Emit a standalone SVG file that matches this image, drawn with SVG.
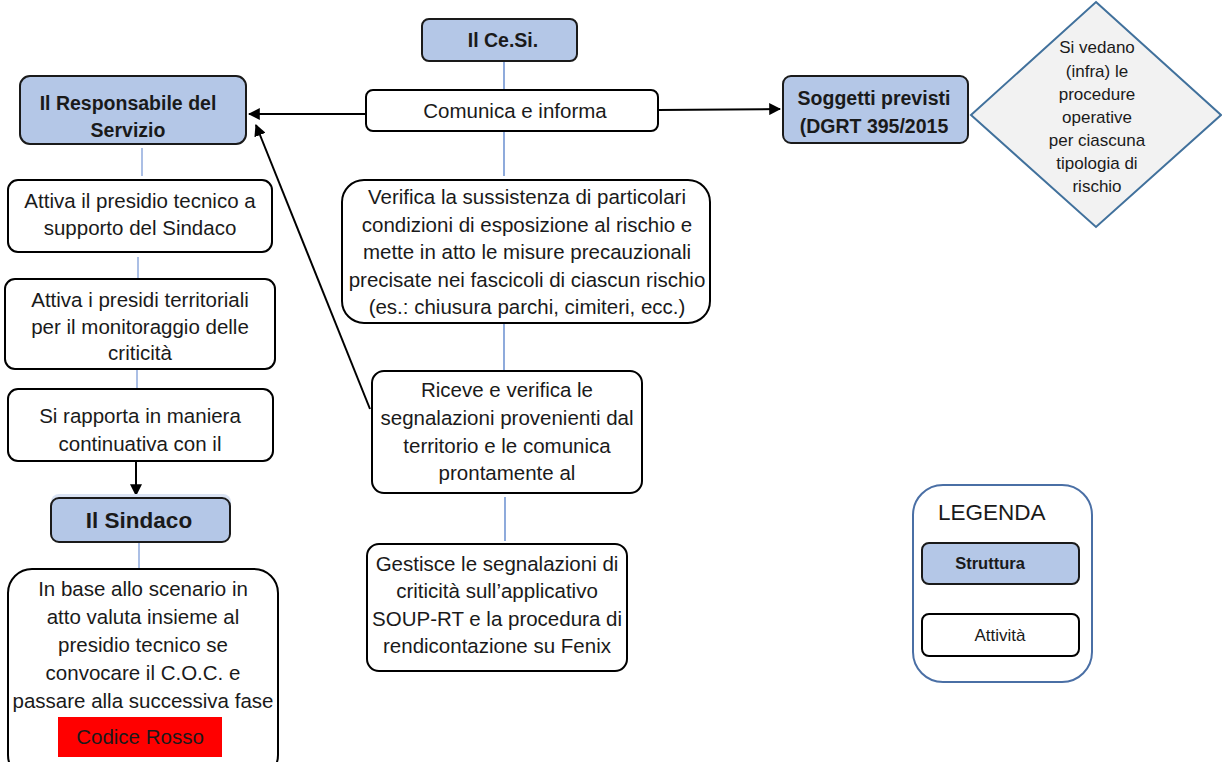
<svg xmlns="http://www.w3.org/2000/svg" width="1222" height="762" viewBox="0 0 1222 762">
<defs>
<style>
.s{fill:#B4C7E7;stroke:#1a1a1a;stroke-width:2}
.a{fill:#ffffff;stroke:#000;stroke-width:2}
.t{font-family:"Liberation Sans",Arial,sans-serif;font-size:20.5px;fill:#1a1a1a;text-anchor:middle}
.b{font-family:"Liberation Sans",Arial,sans-serif;font-weight:bold;font-size:19.5px;fill:#1a1a1a;text-anchor:middle}
.d{font-family:"Liberation Sans",Arial,sans-serif;font-size:17px;fill:#1a1a1a;text-anchor:middle}
.bl{stroke:#4472C4;stroke-width:1.2;fill:none}
.lb{stroke:#8FAADC;stroke-width:1.5;fill:none}
.k{stroke:#000;stroke-width:2;fill:none}
</style>
<marker id="ah" viewBox="0 0 10 10" refX="9" refY="5" markerWidth="6" markerHeight="6" markerUnits="strokeWidth" orient="auto">
<path d="M0,0 L10,5 L0,10 z" fill="#000"/>
</marker>
</defs>
<rect width="1222" height="762" fill="#ffffff"/>

<g id="connectors">
<line class="bl" x1="504" y1="61" x2="504" y2="90"/>
<line class="bl" x1="504" y1="131" x2="504" y2="176"/>
<line class="bl" x1="504" y1="323" x2="504" y2="370"/>
<line class="bl" x1="505" y1="497" x2="505" y2="541"/>
<line class="lb" x1="142" y1="148" x2="142" y2="176"/>
<line class="lb" x1="138" y1="257" x2="138" y2="279"/>
<line class="lb" x1="137" y1="369" x2="137" y2="391"/>
<line class="lb" x1="139" y1="542" x2="139" y2="568"/>
<line class="k" x1="366" y1="114" x2="249" y2="114" marker-end="url(#ah)"/>
<line class="k" x1="658" y1="110" x2="780" y2="109" marker-end="url(#ah)"/>
<line class="k" x1="370" y1="409" x2="256" y2="125" marker-end="url(#ah)"/>
<line class="k" x1="136" y1="461" x2="136" y2="495" marker-end="url(#ah)"/>
</g>

<g id="cesi">
<rect class="s" x="422" y="19" width="155" height="42" rx="7"/>
<text class="b" x="503" y="47">Il Ce.Si.</text>
</g>

<g id="comunica">
<rect class="a" x="366" y="90" width="292" height="41" rx="7"/>
<text class="t" x="515" y="118">Comunica e informa</text>
</g>

<g id="responsabile">
<rect class="s" x="20" y="76" width="226" height="68" rx="10"/>
<text class="b" x="128" y="110">Il Responsabile del</text>
<text class="b" x="128" y="137">Servizio</text>
</g>

<g id="soggetti">
<rect class="s" x="783" y="76" width="185" height="67" rx="8"/>
<text class="b" x="874" y="105">Soggetti previsti</text>
<text class="b" x="874" y="133">(DGRT 395/2015</text>
</g>

<g id="diamante">
<polygon points="1096,2 1221,115 1096,227 971,115" fill="#F2F2F2" stroke="#41719C" stroke-width="2"/>
<text class="d" x="1097" y="53">Si vedano</text>
<text class="d" x="1097" y="77">(infra) le</text>
<text class="d" x="1097" y="100">procedure</text>
<text class="d" x="1097" y="123">operative</text>
<text class="d" x="1097" y="146">per ciascuna</text>
<text class="d" x="1097" y="169">tipologia di</text>
<text class="d" x="1097" y="192">rischio</text>
</g>

<g id="attiva-presidio">
<rect class="a" x="8" y="180" width="264" height="72" rx="10"/>
<text class="t" x="140" y="208">Attiva il presidio tecnico a</text>
<text class="t" x="140" y="235">supporto del Sindaco</text>
</g>

<g id="attiva-presidi">
<rect class="a" x="5" y="279" width="270" height="90" rx="10"/>
<text class="t" x="140" y="307">Attiva i presidi territoriali</text>
<text class="t" x="140" y="334">per il monitoraggio delle</text>
<text class="t" x="140" y="360">criticità</text>
</g>

<g id="rapporta">
<rect class="a" x="8" y="389" width="265" height="72" rx="10"/>
<text class="t" x="140" y="423">Si rapporta in maniera</text>
<text class="t" x="140" y="451">continuativa con il</text>
</g>

<g id="sindaco">
<rect x="51" y="494" width="180" height="46" rx="8" fill="#DAE3F3"/>
<rect class="s" x="51" y="498" width="179" height="44" rx="8"/>
<text class="b" x="139" y="528" style="font-size:22.5px">Il Sindaco</text>
</g>

<g id="in-base">
<rect class="a" x="8" y="569" width="270" height="210" rx="24"/>
<text class="t" x="143" y="596">In base allo scenario in</text>
<text class="t" x="143" y="624">atto valuta insieme al</text>
<text class="t" x="143" y="652">presidio tecnico se</text>
<text class="t" x="143" y="680">convocare il C.O.C. e</text>
<text class="t" x="143" y="708">passare alla successiva fase</text>
<rect x="58" y="717" width="164" height="40" fill="#FF0000"/>
<text class="t" x="140" y="744">Codice Rosso</text>
</g>

<g id="verifica">
<rect class="a" x="342" y="180" width="368" height="143" rx="22"/>
<text class="t" x="527" y="204">Verifica la sussistenza di particolari</text>
<text class="t" x="527" y="232">condizioni di esposizione al rischio e</text>
<text class="t" x="527" y="259">mette in atto le misure precauzionali</text>
<text class="t" x="527" y="287">precisate nei fascicoli di ciascun rischio</text>
<text class="t" x="527" y="314">(es.: chiusura parchi, cimiteri, ecc.)</text>
</g>

<g id="riceve">
<rect class="a" x="372" y="371" width="270" height="122" rx="12"/>
<text class="t" x="507" y="397">Riceve e verifica le</text>
<text class="t" x="507" y="425">segnalazioni provenienti dal</text>
<text class="t" x="507" y="453">territorio e le comunica</text>
<text class="t" x="507" y="480">prontamente al</text>
</g>

<g id="gestisce">
<rect class="a" x="367" y="544" width="260" height="127" rx="12"/>
<text class="t" x="497" y="571">Gestisce le segnalazioni di</text>
<text class="t" x="497" y="598">criticità sull’applicativo</text>
<text class="t" x="497" y="626">SOUP-RT e la procedura di</text>
<text class="t" x="497" y="653">rendicontazione su Fenix</text>
</g>

<g id="legenda">
<rect x="913" y="485" width="179" height="197" rx="30" fill="#ffffff" stroke="#4A6FA5" stroke-width="2"/>
<text x="938" y="520" style="font-family:'Liberation Sans',Arial,sans-serif;font-size:22.5px;fill:#1a1a1a">LEGENDA</text>
<rect class="s" x="922" y="543" width="157" height="41" rx="7"/>
<text class="b" x="990" y="569" style="font-size:16.5px">Struttura</text>
<rect class="a" x="922" y="614" width="157" height="42" rx="7"/>
<text class="t" x="1000" y="641" style="font-size:17px">Attività</text>
</g>
</svg>
